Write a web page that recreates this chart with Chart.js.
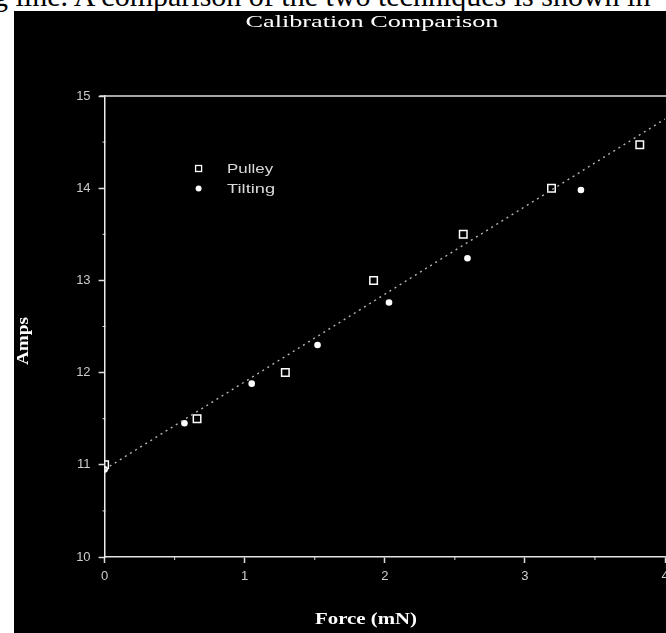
<!DOCTYPE html>
<html><head><meta charset="utf-8">
<script src="https://cdn.jsdelivr.net/npm/chart.js@4"></script>
<style>
html,body{margin:0;padding:0;width:666px;height:633px;overflow:hidden;background:#fff;}
#doc{position:absolute;left:-7px;top:-19px;font-family:"Liberation Serif","Times New Roman",serif;font-size:30px;line-height:30px;white-space:nowrap;color:#000;}
#panel{position:absolute;left:14px;top:11px;width:680px;height:622px;background:#000;}
canvas{display:block;}
</style></head><body>
<div id="doc">g line. A comparison of the two techniques is shown in</div>
<div id="panel"><canvas id="c" width="680" height="622"></canvas></div>
<script>
// ---- data ----
const pulleyForce = [0, 0.66, 1.29, 1.92, 2.56, 3.19, 3.82];
const pulleyAmps  = [11.0, 11.5, 12.0, 13.0, 13.5, 14.0, 14.47];
const tiltForce   = [0, 0.57, 1.05, 1.52, 2.03, 2.59, 3.40];
const tiltAmps    = [10.95, 11.45, 11.88, 12.30, 12.76, 13.24, 13.98];
const fitForce    = [0, 4];
const fitAmps     = [10.95, 14.75];
const xTickValues = [0, 1, 2, 3, 4];
const yTickValues = [10, 11, 12, 13, 14, 15];
const seriesNames = ['Pulley', 'Tilting'];
const chartTitle  = 'Calibration Comparison';
const xTitle = 'Force (mN)';
const yTitle = 'Amps';

const toPts = (xs, ys) => xs.map((x, i) => ({x: x, y: ys[i]}));

function stretchText(ctx, text, x, y, font, targetW, color, align, rotate) {
  ctx.save();
  ctx.font = font; ctx.fillStyle = color;
  ctx.textAlign = align || 'center'; ctx.textBaseline = 'middle';
  const w = ctx.measureText(text).width;
  const sx = targetW / w;
  ctx.translate(x, y);
  if (rotate) ctx.rotate(-Math.PI / 2);
  ctx.scale(sx, 1);
  ctx.fillText(text, 0, 0);
  ctx.restore();
}

const decorPlugin = {
  id: 'decor',
  beforeDatasetsDraw(chart) {
    const ctx = chart.ctx, a = chart.chartArea;
    const xs = chart.scales.x, ys = chart.scales.y;
    ctx.save();
    ctx.strokeStyle = '#dedede'; ctx.lineWidth = 1.5;
    // frame top
    ctx.beginPath();
    ctx.moveTo(a.left - 5, a.top); ctx.lineTo(a.right + 2, a.top);
    ctx.stroke();
    // minor ticks
    ctx.lineWidth = 1;
    ctx.beginPath();
    for (let v = 0.5; v < 4; v += 1) {
      const px = xs.getPixelForValue(v);
      ctx.moveTo(px, a.bottom); ctx.lineTo(px, a.bottom + 3);
    }
    for (let v = 10.5; v < 15; v += 1) {
      const py = ys.getPixelForValue(v);
      ctx.moveTo(a.left - 2, py); ctx.lineTo(a.left + 1, py);
    }
    ctx.stroke();
    ctx.restore();
  },
  afterDraw(chart) {
    const ctx = chart.ctx, a = chart.chartArea;
    stretchText(ctx, chartTitle, 358, 12, '17px "Liberation Serif", serif', 253, '#ffffff');
    stretchText(ctx, yTitle, 10, 330, 'bold 16px "Liberation Serif", serif', 48, '#ffffff', 'center', true);
    stretchText(ctx, xTitle, 352, 609, 'bold 16px "Liberation Serif", serif', 102, '#ffffff');
    // legend
    const lx = a.left + 94, ly1 = a.top + 72.5, ly2 = a.top + 92.5;
    ctx.save();
    ctx.strokeStyle = '#ffffff'; ctx.lineWidth = 1.3;
    ctx.strokeRect(lx - 3, ly1 - 3, 6, 6);
    ctx.fillStyle = '#ffffff';
    ctx.beginPath(); ctx.arc(lx, ly2, 3, 0, Math.PI * 2); ctx.fill();
    ctx.restore();
    stretchText(ctx, seriesNames[0], a.left + 122.5, a.top + 73, '13px "Liberation Sans", sans-serif', 46, '#d8d8d8', 'left');
    stretchText(ctx, seriesNames[1], a.left + 122.5, a.top + 93, '13px "Liberation Sans", sans-serif', 48, '#d8d8d8', 'left');
  }
};

const tickFont = {family: '"Liberation Sans", Arial, sans-serif', size: 13};

new Chart(document.getElementById('c'), {
  type: 'scatter',
  data: {
    datasets: [
      {
        label: 'fit', data: toPts(fitForce, fitAmps), showLine: true,
        borderColor: '#b4b4b4', borderWidth: 1.4, borderDash: [2, 4],
        pointRadius: 0, fill: false
      },
      {
        label: seriesNames[0], data: toPts(pulleyForce, pulleyAmps),
        pointStyle: 'rect', pointRadius: 5.3, borderColor: '#ffffff',
        backgroundColor: 'rgba(0,0,0,0)', borderWidth: 1.5
      },
      {
        label: seriesNames[1], data: toPts(tiltForce, tiltAmps),
        pointStyle: 'circle', pointRadius: 3.3, borderColor: '#ffffff',
        backgroundColor: '#ffffff', borderWidth: 0
      }
    ]
  },
  options: {
    responsive: false, animation: false,
    layout: {padding: {left: 0, top: 85, right: 29, bottom: 0}},
    plugins: {legend: {display: false}, tooltip: {enabled: false}, title: {display: false}},
    scales: {
      x: {
        type: 'linear', min: 0, max: 4,
        afterBuildTicks(s) { s.ticks = xTickValues.map(v => ({value: v})); },
        ticks: {color: '#cccccc', font: tickFont, padding: 6, maxRotation: 0, autoSkip: false},
        grid: {drawOnChartArea: false, drawTicks: true, tickLength: 6, tickColor: '#dddddd', tickWidth: 1.5},
        border: {display: true, color: '#e4e4e4', width: 1.5},
        afterFit(s) { s.height = 76; s.paddingLeft = 0; s.paddingRight = 0; }
      },
      y: {
        type: 'linear', min: 10, max: 15,
        afterBuildTicks(s) { s.ticks = yTickValues.map(v => ({value: v})); },
        ticks: {color: '#cccccc', font: tickFont, padding: 8, autoSkip: false},
        grid: {drawOnChartArea: false, drawTicks: true, tickLength: 6, tickColor: '#dddddd', tickWidth: 1.5},
        border: {display: true, color: '#ececec', width: 1.5},
        afterFit(s) { s.width = 90.6; s.paddingTop = 0; s.paddingBottom = 0; }
      }
    }
  },
  plugins: [decorPlugin]
});
</script>
</body></html>
